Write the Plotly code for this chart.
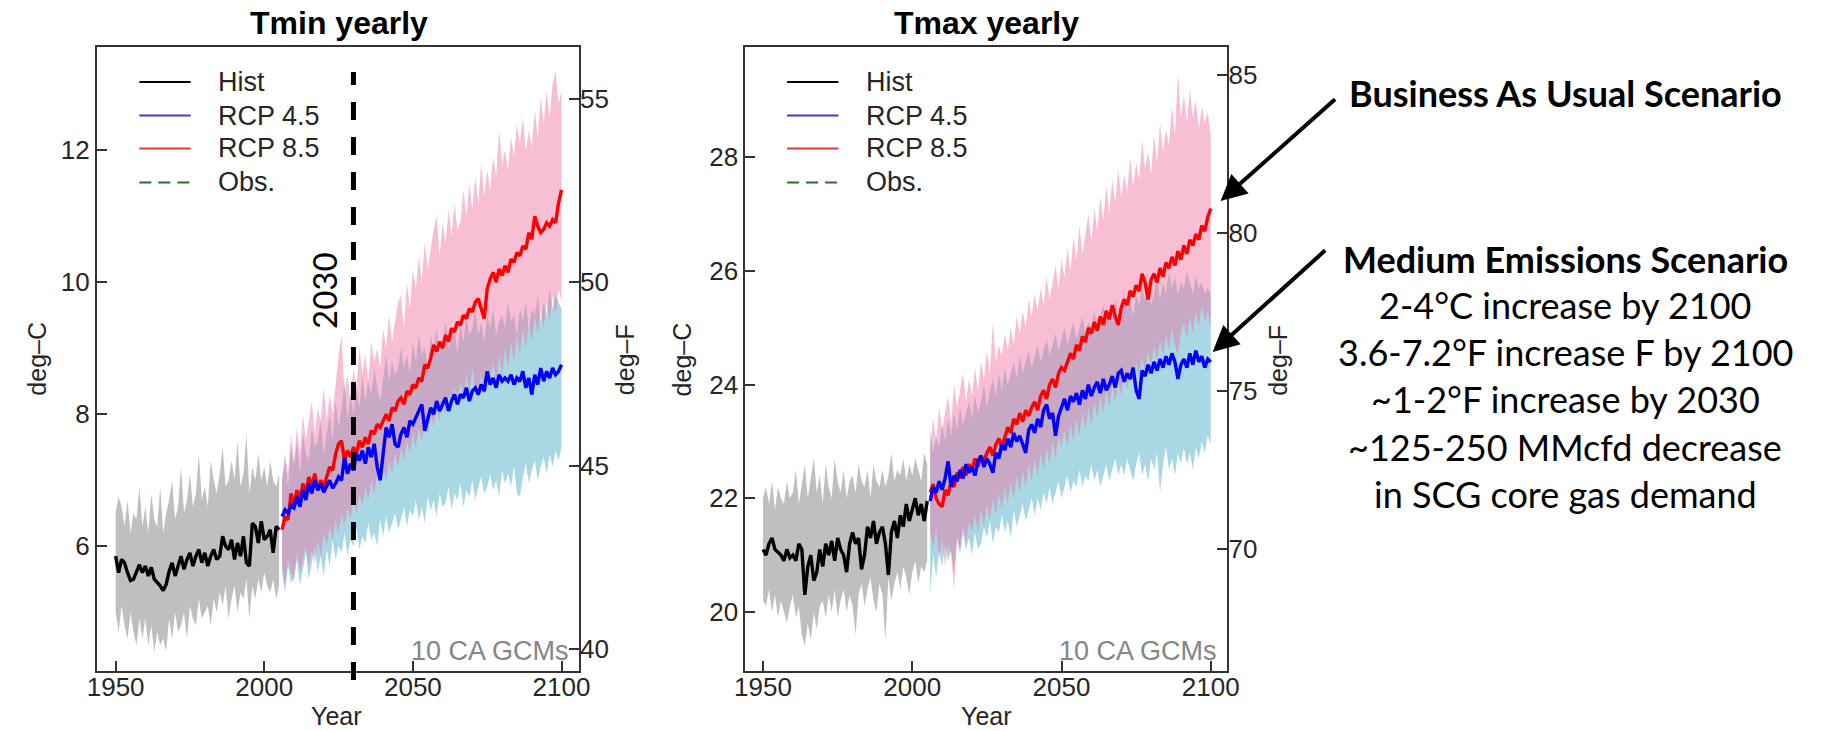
import plotly.graph_objects as go

W, H = 1825, 731

# ---------------- data ----------------
hist_years = list(range(1950, 2006))
fut_years = list(range(2006, 2101))

# Tmin (deg C)
tmin_hist = [5.85, 5.60, 5.80, 5.75, 5.60, 5.48, 5.50, 5.62, 5.72, 5.60,
             5.70, 5.55, 5.68, 5.50, 5.45, 5.40, 5.33, 5.42, 5.62, 5.75,
             5.55, 5.72, 5.85, 5.65, 5.80, 5.90, 5.70, 5.85, 5.95, 5.75,
             5.90, 5.70, 5.85, 5.95, 5.80, 5.85, 6.15, 6.00, 5.95, 6.10,
             5.80, 6.05, 5.85, 6.15, 5.75, 5.70, 6.35, 6.30, 6.05, 6.38,
             6.10, 6.15, 6.25, 5.90, 6.30, 6.25]
tmin_hist_hi = [6.5, 6.75, 6.6, 6.3, 6.7, 6.2, 6.5, 6.4, 6.9, 6.3,
                6.6, 6.2, 6.8, 6.4, 6.3, 6.9, 6.2, 6.5, 6.7, 7.0,
                6.4, 6.6, 7.2, 6.5, 6.7, 7.1, 6.6, 6.8, 7.4, 6.7,
                6.9, 6.6, 7.3, 7.0, 6.8, 7.1, 7.5, 6.9, 7.0, 7.3,
                7.0, 7.6, 6.9, 7.1, 7.7, 6.8, 7.2, 7.0, 7.4, 7.0,
                7.2, 6.9, 7.3, 7.0, 6.9, 7.1]
tmin_hist_lo = [5.0, 4.7, 5.1, 4.8, 4.6, 5.0, 4.7, 4.5, 4.9, 4.6,
                4.9, 4.5, 4.8, 4.4, 4.7, 4.5, 4.6, 4.4, 4.9, 4.6,
                5.0, 4.7, 4.8, 5.0, 4.6, 5.1, 4.9, 4.8, 5.2, 4.9,
                5.0, 5.1, 4.8, 5.2, 5.0, 5.3, 5.1, 5.4, 4.9, 5.2,
                5.4, 5.0, 5.3, 5.2, 5.5, 4.9, 5.4, 5.2, 5.5, 5.3,
                5.6, 5.4, 5.3, 5.5, 5.2, 5.4]

tmin_rcp45 = [6.45, 6.55, 6.50, 6.62, 6.58, 6.75, 6.60, 6.85, 6.70, 6.95,
              6.80, 7.00, 6.85, 6.95, 6.82, 6.90, 7.00, 6.88, 6.95, 7.05,
              7.00, 7.35, 7.10, 7.25, 7.15, 7.40, 7.30, 7.45, 7.25, 7.50,
              7.35, 7.55, 7.20, 7.00, 7.45, 7.80, 7.65, 7.85, 7.55, 7.50,
              7.70, 7.80, 7.65, 7.90, 7.85, 7.95, 8.05, 8.15, 7.75, 7.95,
              8.10, 8.00, 8.20, 8.05, 8.15, 8.25, 8.05, 8.20, 8.30, 8.15,
              8.30, 8.25, 8.40, 8.20, 8.35, 8.40, 8.30, 8.45, 8.35, 8.65,
              8.45, 8.55, 8.40, 8.60, 8.50, 8.55, 8.50, 8.60, 8.45, 8.55,
              8.50, 8.65, 8.40, 8.55, 8.30, 8.60, 8.45, 8.70, 8.50, 8.65,
              8.55, 8.70, 8.60, 8.65, 8.75]
tmin_rcp45_hi = [7.00, 7.30, 6.90, 7.50, 7.20, 7.60, 7.10, 7.70, 7.40, 7.30,
                 7.80, 7.50, 7.60, 7.90, 7.40, 7.70, 8.00, 7.60, 8.20, 7.80,
                 8.10, 8.50, 7.90, 8.30, 8.00, 8.40, 8.10, 8.60, 8.20, 8.50,
                 8.30, 8.70, 8.40, 8.20, 8.60, 8.90, 8.50, 8.80, 8.60, 8.70,
                 9.00, 8.70, 8.90, 8.60, 9.10, 8.80, 9.20, 8.90, 9.00, 8.70,
                 9.20, 9.00, 9.30, 8.90, 9.10, 9.40, 9.00, 9.20, 9.30, 8.90,
                 9.40, 9.10, 9.50, 9.20, 9.30, 9.60, 9.20, 9.40, 9.10, 9.50,
                 9.30, 9.60, 9.20, 9.40, 9.50, 9.30, 9.70, 9.40, 9.50, 9.20,
                 9.60, 9.40, 9.70, 9.30, 9.60, 9.50, 9.80, 9.40, 9.70, 9.50,
                 9.90, 9.60, 9.80, 9.70, 9.60]
tmin_rcp45_lo = [5.60, 5.30, 5.70, 5.45, 5.50, 5.80, 5.40, 5.65, 5.90, 5.50,
                 5.75, 6.00, 5.60, 5.85, 5.55, 5.95, 5.70, 6.10, 5.80, 6.00,
                 5.90, 6.20, 5.85, 6.10, 6.00, 6.30, 5.95, 6.15, 6.05, 6.35,
                 6.10, 6.20, 6.00, 6.40, 6.15, 6.45, 6.20, 6.35, 6.50, 6.25,
                 6.40, 6.60, 6.30, 6.55, 6.45, 6.70, 6.40, 6.60, 6.35, 6.75,
                 6.55, 6.70, 6.45, 6.80, 6.60, 6.65, 6.90, 6.55, 6.80, 6.70,
                 6.95, 6.60, 6.85, 6.75, 7.00, 6.70, 6.90, 7.05, 6.80, 6.90,
                 7.10, 6.85, 7.00, 6.75, 7.15, 6.95, 7.10, 6.90, 7.20, 6.80,
                 6.75, 7.05, 7.25, 6.95, 7.15, 7.30, 7.00, 7.20, 7.35, 7.10,
                 7.40, 7.20, 7.45, 7.30, 7.50]

tmin_rcp85 = [6.25, 6.45, 6.40, 6.80, 6.60, 6.85, 6.70, 6.95, 6.80, 7.05,
              6.90, 7.10, 6.85, 7.00, 6.90, 7.05, 7.20, 7.15, 7.40, 7.55,
              7.60, 7.30, 7.45, 7.35, 7.50, 7.40, 7.60, 7.50, 7.65, 7.55,
              7.75, 7.70, 7.85, 7.80, 7.90, 8.00, 7.90, 8.10, 8.05, 8.20,
              8.25, 8.15, 8.35, 8.30, 8.45, 8.40, 8.55, 8.50, 8.75, 8.70,
              8.85, 9.05, 8.95, 9.10, 9.00, 9.20, 9.10, 9.30, 9.25, 9.40,
              9.35, 9.50, 9.45, 9.60, 9.55, 9.70, 9.75, 9.60, 9.45, 9.90,
              10.05, 10.15, 10.00, 10.20, 10.10, 10.25, 10.15, 10.35, 10.30, 10.45,
              10.40, 10.55, 10.50, 10.75, 10.65, 11.00, 10.85, 10.75, 10.80, 10.90,
              10.85, 10.95, 10.90, 11.20, 11.40]
tmin_rcp85_hi = [7.00, 7.40, 7.10, 7.70, 7.30, 7.80, 7.40, 8.00, 7.60, 7.90,
                 8.20, 7.70, 8.10, 7.90, 8.40, 7.90, 8.30, 8.00, 8.50, 8.90,
                 9.20, 8.30, 8.60, 8.20, 8.70, 8.40, 9.00, 8.60, 8.90, 8.50,
                 9.10, 8.80, 9.00, 8.70, 9.30, 9.00, 9.50, 9.10, 9.40, 9.70,
                 9.80, 9.30, 10.00, 9.60, 10.20, 9.90, 10.40, 10.00, 10.60, 10.20,
                 10.50, 10.80, 11.00, 10.40, 10.90, 10.60, 11.10, 10.70, 11.20, 10.80,
                 10.90, 11.40, 11.00, 11.50, 11.10, 11.60, 11.20, 11.80, 11.30, 11.70,
                 11.40, 11.90, 11.60, 12.30, 11.80, 12.00, 11.70, 12.20, 11.90, 12.40,
                 12.10, 12.50, 12.00, 12.30, 12.05, 12.60, 12.20, 12.80, 12.40, 12.90,
                 12.50, 13.00, 13.20, 12.70, 12.90]
tmin_rcp85_lo = [5.70, 5.40, 5.80, 5.60, 5.50, 5.90, 5.60, 5.80, 6.00, 5.70,
                 5.95, 5.75, 6.10, 5.85, 6.20, 6.00, 6.30, 6.10, 6.40, 6.20,
                 6.50, 6.30, 6.60, 6.40, 6.70, 6.50, 6.80, 6.60, 6.90, 6.70,
                 7.00, 6.80, 7.10, 6.90, 7.20, 7.00, 7.30, 7.10, 7.40, 7.20,
                 7.50, 7.30, 7.60, 7.40, 7.70, 7.50, 7.80, 7.60, 7.90, 7.70,
                 8.00, 7.80, 8.10, 7.90, 8.20, 8.00, 8.30, 8.10, 8.40, 8.20,
                 8.50, 8.20, 8.60, 8.30, 8.70, 8.40, 8.20, 8.60, 8.30, 8.70,
                 8.50, 8.80, 8.40, 8.90, 8.60, 9.00, 8.70, 9.10, 8.80, 9.20,
                 8.90, 9.30, 9.00, 9.40, 9.10, 9.50, 9.20, 9.60, 9.30, 9.70,
                 9.40, 9.80, 9.50, 9.90, 9.70]

# Tmax (deg C)
tmax_hist = [21.10, 21.00, 21.20, 21.30, 21.10, 21.05, 21.00, 20.90, 21.10, 20.95,
             21.00, 20.90, 21.20, 21.10, 20.30, 20.80, 21.00, 20.55, 20.70, 21.10,
             20.80, 21.20, 21.00, 21.25, 20.90, 21.30, 21.10, 21.00, 20.70, 21.20,
             21.40, 21.20, 21.30, 20.75, 21.00, 21.50, 21.30, 21.60, 21.20, 21.40,
             21.50, 21.20, 20.65, 21.40, 21.60, 21.30, 21.70, 21.50, 21.90, 21.60,
             21.80, 22.00, 21.70, 21.90, 21.60, 21.95]
tmax_hist_hi = [22.0, 22.2, 21.9, 22.3, 21.8, 22.2, 22.0, 21.9, 22.3, 22.0,
                22.1, 22.5, 21.9, 22.3, 22.6, 22.0, 22.4, 22.7, 22.1, 22.4,
                21.9, 22.6, 22.2, 22.0, 22.7, 22.3, 22.1, 22.5, 22.0, 22.3,
                22.4, 22.1, 22.6, 22.3, 22.2, 22.5, 22.0, 22.6, 22.3, 22.2,
                22.5, 22.2, 22.4, 22.8, 22.3, 22.5, 22.4, 22.7, 22.3, 22.6,
                22.4, 22.7, 22.5, 22.3, 22.8, 22.6]
tmax_hist_lo = [20.2, 20.1, 20.4, 20.0, 20.3, 19.9, 20.2, 20.0, 19.8, 20.1,
                20.3, 19.9, 20.1, 19.6, 19.4, 19.8, 19.5, 20.0, 19.7, 20.1,
                20.2, 19.9, 20.3, 20.0, 20.4, 19.9, 20.2, 20.4, 20.0, 20.3,
                20.1, 19.6, 20.3, 20.5, 20.1, 20.4, 20.6, 20.2, 20.0, 20.5,
                20.3, 19.5, 20.6, 20.2, 20.5, 20.7, 20.4, 20.8, 20.6, 20.3,
                20.7, 20.9, 20.5, 20.8, 20.7, 20.9]

tmax_rcp45 = [21.95, 22.20, 22.10, 22.30, 22.15, 22.35, 22.65, 22.20, 22.40, 22.30,
              22.50, 22.35, 22.60, 22.45, 22.55, 22.40, 22.65, 22.75, 22.55, 22.70,
              22.60, 22.45, 22.80, 22.70, 22.95, 22.85, 23.05, 22.90, 23.15, 23.00,
              23.10, 22.95, 22.80, 23.20, 23.30, 23.15, 23.40, 23.25, 23.55, 23.65,
              23.40, 23.50, 23.10, 23.45, 23.60, 23.75, 23.55, 23.80, 23.70, 23.85,
              23.65, 23.90, 23.75, 24.00, 23.80, 23.95, 24.05, 23.85, 24.10, 23.90,
              24.00, 24.15, 23.95, 24.20, 24.25, 24.05, 24.20, 24.10, 24.30, 23.90,
              23.75, 24.25, 24.15, 24.35, 24.20, 24.40, 24.25, 24.45, 24.30, 24.50,
              24.35, 24.55, 24.40, 24.10, 24.35, 24.45, 24.30, 24.55, 24.35, 24.60,
              24.40, 24.50, 24.30, 24.45, 24.40]
tmax_rcp45_hi = [23.20, 22.80, 23.10, 22.90, 23.30, 23.00, 23.40, 23.10, 23.50, 23.20,
                 23.60, 23.30, 23.50, 23.70, 23.40, 23.80, 23.50, 23.70, 24.00, 23.60,
                 23.90, 24.10, 23.80, 24.20, 23.90, 24.30, 24.00, 24.20, 24.40, 24.10,
                 24.50, 24.20, 24.40, 24.60, 24.30, 24.50, 24.70, 24.40, 24.60, 24.80,
                 24.50, 24.70, 24.90, 24.60, 24.80, 25.00, 24.70, 24.90, 25.10, 24.80,
                 25.00, 25.20, 24.90, 25.10, 25.00, 25.30, 25.00, 25.20, 25.40, 25.10,
                 25.30, 25.10, 25.50, 25.20, 25.40, 25.60, 25.30, 25.50, 25.20, 25.60,
                 25.40, 25.70, 25.50, 25.80, 25.40, 25.60, 25.90, 25.50, 25.80, 25.60,
                 26.00, 25.70, 25.90, 25.60, 25.80, 25.70, 26.00, 25.80, 25.60, 25.90,
                 25.70, 25.80, 25.60, 25.70, 25.60]
tmax_rcp45_lo = [20.30, 21.00, 20.60, 21.10, 20.80, 21.20, 20.90, 21.10, 20.70, 21.30,
                 21.00, 21.40, 21.10, 21.30, 21.00, 21.40, 21.10, 21.20, 21.50, 21.30,
                 21.60, 21.20, 21.50, 21.40, 21.70, 21.40, 21.60, 21.30, 21.80, 21.50,
                 21.70, 21.90, 21.60, 21.80, 22.00, 21.70, 22.00, 21.80, 22.10, 21.90,
                 22.20, 21.90, 22.10, 22.30, 22.00, 22.20, 22.40, 22.10, 22.30, 22.20,
                 22.50, 22.20, 22.40, 22.30, 22.60, 22.30, 22.50, 22.20, 22.40, 22.60,
                 22.30, 22.50, 22.70, 22.40, 22.60, 22.40, 22.70, 22.50, 22.30, 22.60,
                 22.80, 22.40, 22.60, 22.30, 22.70, 22.50, 22.80, 22.10, 22.60, 22.90,
                 22.50, 22.70, 22.40, 22.80, 22.60, 22.90, 22.60, 22.80, 22.50, 22.90,
                 22.70, 23.00, 22.80, 23.10, 22.95]

tmax_rcp85 = [22.10, 22.25, 22.00, 21.90, 21.85, 22.15, 22.05, 22.30, 22.20, 22.45,
              22.35, 22.55, 22.40, 22.60, 22.50, 22.70, 22.55, 22.75, 22.65, 22.80,
              22.90, 22.75, 22.95, 23.05, 22.90, 23.10, 23.25, 23.15, 23.40, 23.30,
              23.50, 23.35, 23.55, 23.45, 23.60, 23.70, 23.55, 23.80, 23.90, 23.75,
              24.00, 24.10, 23.95, 24.20, 24.30, 24.25, 24.40, 24.55, 24.45, 24.70,
              24.60, 24.85, 24.75, 25.00, 24.90, 25.10, 24.95, 25.20, 25.05, 25.30,
              25.15, 25.40, 25.20, 25.05, 25.35, 25.50, 25.40, 25.65, 25.55, 25.75,
              25.65, 25.95, 25.80, 25.50, 25.85, 25.95, 25.80, 26.05, 25.90, 26.15,
              26.05, 26.25, 26.10, 26.35, 26.20, 26.45, 26.30, 26.55, 26.45, 26.65,
              26.55, 26.80, 26.70, 26.95, 27.10]
tmax_rcp85_hi = [22.90, 23.40, 23.00, 23.60, 23.20, 23.50, 23.80, 23.30, 24.00, 23.60,
                 23.90, 24.20, 23.70, 24.10, 23.80, 24.30, 23.90, 24.40, 24.10, 24.60,
                 24.20, 25.10, 24.40, 24.70, 24.50, 24.90, 24.60, 25.00, 24.70, 25.20,
                 24.90, 25.30, 25.00, 25.50, 25.20, 25.60, 25.30, 25.70, 25.40, 25.90,
                 25.50, 25.80, 26.10, 25.70, 26.20, 25.90, 26.40, 26.00, 26.60, 26.20,
                 26.80, 26.30, 26.70, 27.00, 26.50, 27.10, 26.70, 27.30, 26.90, 27.50,
                 27.00, 27.60, 27.20, 27.80, 27.30, 27.70, 27.40, 28.00, 27.50, 27.90,
                 27.60, 28.30, 27.80, 28.10, 27.70, 28.40, 27.90, 28.60, 28.10, 28.50,
                 28.20, 28.90, 28.40, 29.50, 28.70, 29.10, 28.60, 29.20, 28.70, 29.00,
                 28.50, 28.90, 28.60, 28.80, 28.40]
tmax_rcp85_lo = [21.40, 21.10, 21.50, 20.90, 21.30, 20.80, 21.20, 21.00, 20.40, 21.30,
                 21.10, 21.50, 21.20, 21.60, 21.40, 21.70, 21.40, 21.80, 21.50, 21.90,
                 21.60, 22.00, 21.70, 22.10, 21.80, 22.20, 21.90, 22.30, 22.00, 22.40,
                 22.10, 22.50, 22.20, 22.60, 22.30, 22.70, 22.40, 22.80, 22.50, 22.90,
                 22.60, 23.00, 22.70, 23.10, 22.90, 23.20, 22.90, 23.30, 23.00, 23.40,
                 23.10, 23.50, 23.20, 23.60, 23.30, 23.70, 23.40, 23.80, 23.50, 23.90,
                 23.60, 24.00, 23.70, 24.10, 23.80, 24.20, 23.90, 24.30, 24.00, 24.40,
                 24.10, 24.50, 24.20, 24.60, 24.30, 24.70, 24.40, 24.80, 24.50, 24.90,
                 24.60, 25.00, 24.70, 24.50, 24.90, 25.10, 24.80, 25.20, 24.90, 25.30,
                 25.00, 25.40, 25.10, 25.30, 25.00]

x_ticks = [1950, 2000, 2050, 2100]
tmin_c_ticks = [6, 8, 10, 12]
tmin_f_ticks = [40, 45, 50, 55]
tmax_c_ticks = [20, 22, 24, 26, 28]
tmax_f_ticks = [70, 75, 80, 85]
legend_labels = ["Hist", "RCP 4.5", "RCP 8.5", "Obs."]
marker_year = 2030

notes = ["2-4°C increase by 2100",
         "3.6-7.2°F increase F by 2100",
         "~1-2°F increase by 2030",
         "~125-250 MMcfd decrease",
         "in SCG core gas demand"]

# ---------------- styling ----------------
SANS = "Liberation Sans"
CALLOUT = "Lato"
FRAME = "#333333"
TICKTXT = "#262626"
GRAY_BAND = "#bfbfbf"
BLUE_BAND = "#a9d7e3"
PINK_BAND = "rgba(240,110,160,0.45)"


def px(x):
    return x / W


def py(y):
    return 1 - y / H


def c_to_f(v):
    return v * 1.8 + 32


fig = go.Figure()


def band(xs, hi, lo, color, xa, ya):
    fig.add_trace(go.Scatter(
        x=xs + xs[::-1], y=hi + lo[::-1], fill="toself", fillcolor=color,
        line=dict(width=0), mode="lines", hoverinfo="skip", showlegend=False,
        xaxis=xa, yaxis=ya))


def line(xs, ys, color, name, xa, ya):
    fig.add_trace(go.Scatter(
        x=xs, y=ys, mode="lines", name=name, line=dict(color=color, width=3.4),
        showlegend=False, xaxis=xa, yaxis=ya))


panels = [
    ("x", "y", tmin_hist, tmin_hist_hi, tmin_hist_lo, tmin_rcp45, tmin_rcp45_hi,
     tmin_rcp45_lo, tmin_rcp85, tmin_rcp85_hi, tmin_rcp85_lo),
    ("x2", "y2", tmax_hist, tmax_hist_hi, tmax_hist_lo, tmax_rcp45, tmax_rcp45_hi,
     tmax_rcp45_lo, tmax_rcp85, tmax_rcp85_hi, tmax_rcp85_lo),
]
for (xa, ya, h, hh, hl, r45, r45h, r45l, r85, r85h, r85l) in panels:
    band(hist_years, hh, hl, GRAY_BAND, xa, ya)
    band(fut_years, r45h, r45l, BLUE_BAND, xa, ya)
    band(fut_years, r85h, r85l, PINK_BAND, xa, ya)
    line(hist_years, h, "black", "Hist", xa, ya)
    line(fut_years, r85, "#ff0000", "RCP 8.5", xa, ya)
    line(fut_years, r45, "#0000ff", "RCP 4.5", xa, ya)

# ---------------- axes ----------------
L = dict(x0=87, x1=575.3)
R = dict(x0=743.8, x1=1232)
TOP, BOT = 46.6, 671
ydom = [py(BOT), py(TOP)]

tick_common = dict(ticks="inside", ticklen=10, tickwidth=2, tickcolor=FRAME,
                   tickfont=dict(family=SANS, size=26, color=TICKTXT),
                   showgrid=False, zeroline=False)
frame = dict(showline=True, linewidth=2, linecolor=FRAME, mirror=True)

tmin_range = [4.11, 13.57]
tmax_range = [18.96, 29.95]

fig.update_layout(
    width=W, height=H, margin=dict(l=0, r=0, t=0, b=0),
    paper_bgcolor="white", plot_bgcolor="white", showlegend=False,
    xaxis=dict(domain=[px(L["x0"]), px(L["x1"])], range=[1943.7, 2105.9],
               tickvals=x_ticks, anchor="y", ticklabelstandoff=-8,
               **tick_common, **frame),
    yaxis=dict(domain=ydom, range=tmin_range, tickvals=tmin_c_ticks,
               anchor="x", **tick_common, **frame),
    yaxis3=dict(overlaying="y", side="right", anchor="x",
                range=[c_to_f(v) for v in tmin_range], tickvals=tmin_f_ticks,
                **tick_common),
    xaxis2=dict(domain=[px(R["x0"]), px(R["x1"])], range=[1944.1, 2105.6],
                tickvals=x_ticks, anchor="y2", ticklabelstandoff=-8,
                **tick_common, **frame),
    yaxis2=dict(domain=ydom, range=tmax_range, tickvals=tmax_c_ticks,
                anchor="x2", **tick_common, **frame),
    yaxis4=dict(overlaying="y2", side="right", anchor="x2",
                range=[c_to_f(v) for v in tmax_range], tickvals=tmax_f_ticks,
                **tick_common),
)
# empty traces so the Fahrenheit axes are drawn
fig.add_trace(go.Scatter(x=[], y=[], xaxis="x", yaxis="y3", showlegend=False))
fig.add_trace(go.Scatter(x=[], y=[], xaxis="x2", yaxis="y4", showlegend=False))

ann = []
shapes = []


def text(x, y, s, size, family=SANS, color="black", angle=0, xanchor="center"):
    ann.append(dict(x=px(x), y=py(y), xref="paper", yref="paper", text=s,
                    showarrow=False, textangle=angle, xanchor=xanchor,
                    yanchor="middle", font=dict(family=family, size=size, color=color)))


# titles and axis labels
text(332, 23, "<b>Tmin yearly</b>", 32)
text(988, 23, "<b>Tmax yearly</b>", 32)
text(330, 716, "Year", 25, color=TICKTXT)
text(988, 716, "Year", 25, color=TICKTXT)
text(26, 359, "deg–C", 25, color=TICKTXT, angle=-90)
text(680, 359, "deg–C", 25, color=TICKTXT, angle=-90)
text(622, 360, "deg–F", 25, color=TICKTXT, angle=-90)
text(1283, 360, "deg–F", 25, color=TICKTXT, angle=-90)
text(567, 651, "10 CA GCMs", 27, color="#858585", xanchor="right")
text(1223, 651, "10 CA GCMs", 27, color="#858585", xanchor="right")

# legends
leg_rows = [82, 115.5, 148.5, 182.5]
leg_colors = ["black", "#3a3ad0", "#e23a3a", "#2e6b2e"]
for (lx0, lx1, tx) in [(130, 182, 208), (786, 838, 864)]:
    for lab, yy, col in zip(legend_labels, leg_rows, leg_colors):
        shapes.append(dict(type="line", xref="paper", yref="paper",
                           x0=px(lx0), x1=px(lx1), y0=py(yy), y1=py(yy),
                           line=dict(color=col, width=2,
                                     dash="12px,7px" if lab == "Obs." else "solid")))
        text(tx, yy, lab, 27, color=TICKTXT, xanchor="left")

# 2030 marker on the Tmin panel
shapes.append(dict(type="line", xref="x", yref="paper", x0=marker_year, x1=marker_year,
                   y0=py(680), y1=py(72), line=dict(color="black", width=5, dash="18px,17px")))
text(317, 291, str(marker_year), 33, family=CALLOUT, angle=-90)

# scenario callouts
text(1574, 93, "<b>Business As Usual Scenario</b>", 36, family=CALLOUT)
text(1574, 259, "<b>Medium Emissions Scenario</b>", 36, family=CALLOUT)
for i, s in enumerate(notes):
    text(1574, 305 + i * 47.2, s, 36, family=CALLOUT)

for (tx, ty, sx, sy) in [(1225, 201, 1341, 98), (1217, 352, 1331, 249)]:
    ann.append(dict(x=px(tx), y=py(ty), xref="paper", yref="paper", text="",
                    showarrow=True, arrowhead=2, arrowsize=1.3, arrowwidth=4,
                    arrowcolor="black", ax=sx - tx, ay=sy - ty))

fig.update_layout(annotations=ann, shapes=shapes)
fig.write_html("out.html")
